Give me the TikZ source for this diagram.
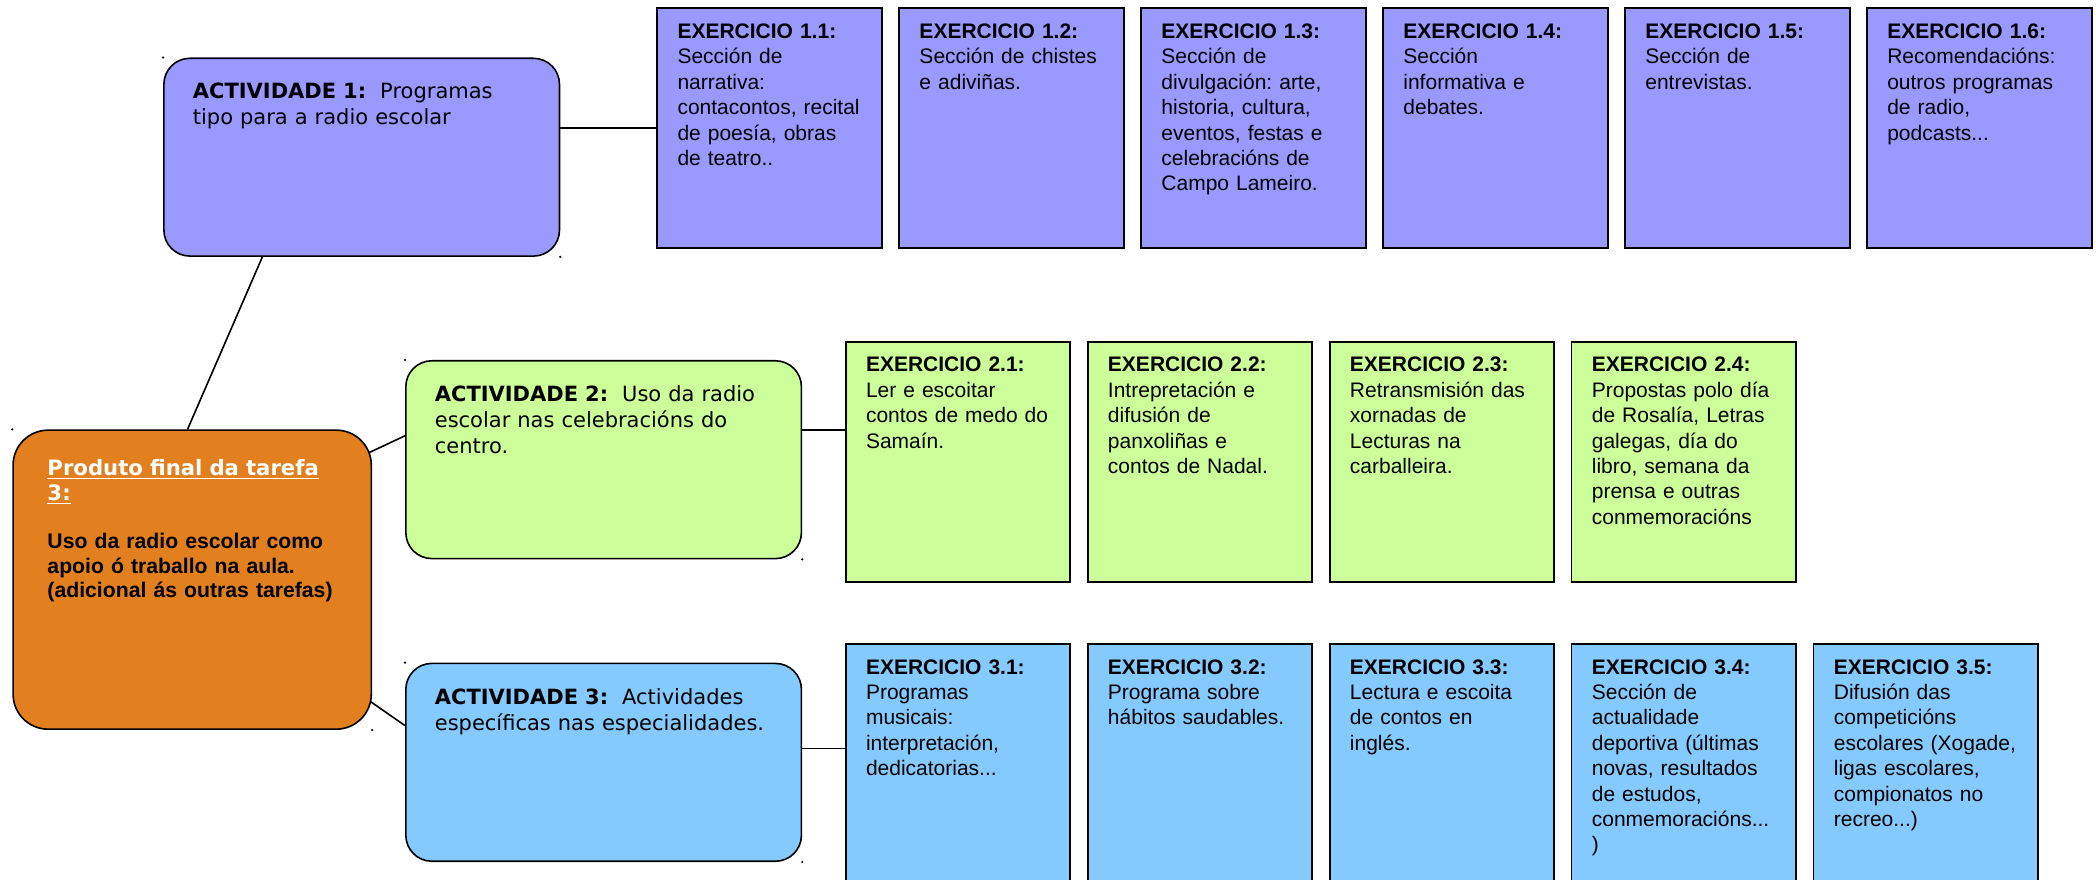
\documentclass[tikz,border=0pt]{standalone}
\usepackage{fontspec}
\setmainfont{Liberation Sans}
\newfontfamily\dejavu{DejaVu Sans}
\usetikzlibrary{calc,backgrounds}
\frenchspacing

\definecolor{exviolet}{HTML}{9999FF}
\definecolor{exgreen}{HTML}{CCFF99}
\definecolor{exblue}{HTML}{85CAFF}
\definecolor{prodorange}{HTML}{E27F1F}

\newcommand\prodhead[1]{{\dejavu\bfseries\color{white}\underline{#1}}}

\begin{document}
\begin{tikzpicture}[x=0.66837pt,y=-0.66837pt,
    exbox/.style={rectangle,draw=black,line width=0.9pt,anchor=north west,
        align=left,text width=92pt,inner xsep=10.15pt,inner ysep=7.5pt,
        text height=7.6pt,text depth=97.4pt,
        font=\fontsize{10.5}{12.7}\selectfont},
    actbox/.style={rectangle,draw=black,line width=0.8pt,rounded corners=13pt,
        anchor=north west,align=left,text width=168.8pt,inner xsep=14.5pt,
        inner ysep=12.6pt,text height=7.7pt,text depth=66pt,
        font=\dejavu\fontsize{10.5}{13}\selectfont},
    prodbox/.style={rectangle,draw=black,line width=0.8pt,rounded corners=17.5pt,
        anchor=north west,align=left,text width=144.7pt,inner xsep=17.2pt,
        inner ysep=15.1pt,text height=7.7pt,text depth=111.6pt,
        font=\fontsize{10.6}{12.2}\selectfont}]
\clip (0,0) rectangle (1568,658);

\node[prodbox,fill=prodorange] (prod) at (9.2,321.2)
    {\prodhead{Produto final da tarefa}\\\prodhead{3:}\\[12.2pt]
     \textbf{Uso da radio escolar como}\\\textbf{apoio ó traballo na aula.}\\
     \textbf{(adicional ás outras tarefas)}};

\begin{scope}[every node/.style={actbox}]
    \node[fill=exviolet] (act1) at (122,43)
        {\textbf{ACTIVIDADE 1:}~ Programas\\tipo para a radio escolar};
    \node[fill=exgreen] (act2) at (303,269.3)
        {\textbf{ACTIVIDADE 2:}~ Uso da radio\\escolar nas celebracións do\\centro.};
    \node[fill=exblue] (act3) at (303,495.7)
        {\textbf{ACTIVIDADE 3:}~ Actividades\\específicas nas especialidades.};
\end{scope}

\begin{scope}[every node/.style={exbox,fill=exviolet}]
    \node (e11) at (491,5.5) {\textbf{EXERCICIO 1.1:}\\Sección de\\narrativa:\\contacontos, recital\\de poesía, obras\\de teatro..};
    \node (e12) at (672,5.5) {\textbf{EXERCICIO 1.2:}\\Sección de chistes\\e adiviñas.};
    \node (e13) at (853,5.5) {\textbf{EXERCICIO 1.3:}\\Sección de\\divulgación: arte,\\historia, cultura,\\eventos, festas e\\celebracións de\\Campo Lameiro.};
    \node (e14) at (1034,5.5) {\textbf{EXERCICIO 1.4:}\\Sección\\informativa e\\debates.};
    \node (e15) at (1215,5.5) {\textbf{EXERCICIO 1.5:}\\Sección de\\entrevistas.};
    \node (e16) at (1396,5.5) {\textbf{EXERCICIO 1.6:}\\Recomendacións:\\outros programas\\de radio,\\podcasts...};
\end{scope}

\begin{scope}[every node/.style={exbox,fill=exgreen}]
    \node (e21) at (632,255) {\textbf{EXERCICIO 2.1:}\\Ler e escoitar\\contos de medo do\\Samaín.};
    \node (e22) at (813,255) {\textbf{EXERCICIO 2.2:}\\Intrepretación e\\difusión de\\panxoliñas e\\contos de Nadal.};
    \node (e23) at (994,255) {\textbf{EXERCICIO 2.3:}\\Retransmisión das\\xornadas de\\Lecturas na\\carballeira.};
    \node (e24) at (1175,255) {\textbf{EXERCICIO 2.4:}\\Propostas polo día\\de Rosalía, Letras\\galegas, día do\\libro, semana da\\prensa e outras\\conmemoracións};
\end{scope}

\begin{scope}[every node/.style={exbox,fill=exblue}]
    \node (e31) at (632,481) {\textbf{EXERCICIO 3.1:}\\Programas\\musicais:\\interpretación,\\dedicatorias...};
    \node (e32) at (813,481) {\textbf{EXERCICIO 3.2:}\\Programa sobre\\hábitos saudables.};
    \node (e33) at (994,481) {\textbf{EXERCICIO 3.3:}\\Lectura e escoita\\de contos en\\inglés.};
    \node (e34) at (1175,481) {\textbf{EXERCICIO 3.4:}\\Sección de\\actualidade\\deportiva (últimas\\novas, resultados\\de estudos,\\conmemoracións...\\)};
    \node (e35) at (1356,481) {\textbf{EXERCICIO 3.5:}\\Difusión das\\competicións\\escolares (Xogade,\\ligas escolares,\\compionatos no\\recreo...)};
\end{scope}

% corner marks
\foreach \n in {act1,act2,act3,prod}
    \fill (\n.north west) circle (0.6pt) (\n.south east) circle (0.6pt);

\begin{scope}[on background layer,
              every edge/.style={draw=black,line width=0.8pt}]
    \coordinate (a2r) at ($(act2.north east)!0.35!(act2.south east)$);
    \coordinate (a3r) at ($(act3.north east)!0.43!(act3.south east)$);
    \path (e11.west) edge (e11.west -| act1.east);
    \path (a2r) edge (a2r -| e21.west);
    \path (a3r) edge (a3r -| e31.west);
    \path ($(act1.south west)!0.25!(act1.south east)$) edge ($(prod.north west)!0.487!(prod.north east)$);
    \path ([shift={(-4.8,18.6)}]prod.north east) edge ($(act2.north west)!0.38!(act2.south west)$);
    \path ([shift={(-3,-22.5)}]prod.south east) edge ($(act3.north west)!0.316!(act3.south west)$);
\end{scope}
\end{tikzpicture}
\end{document}
